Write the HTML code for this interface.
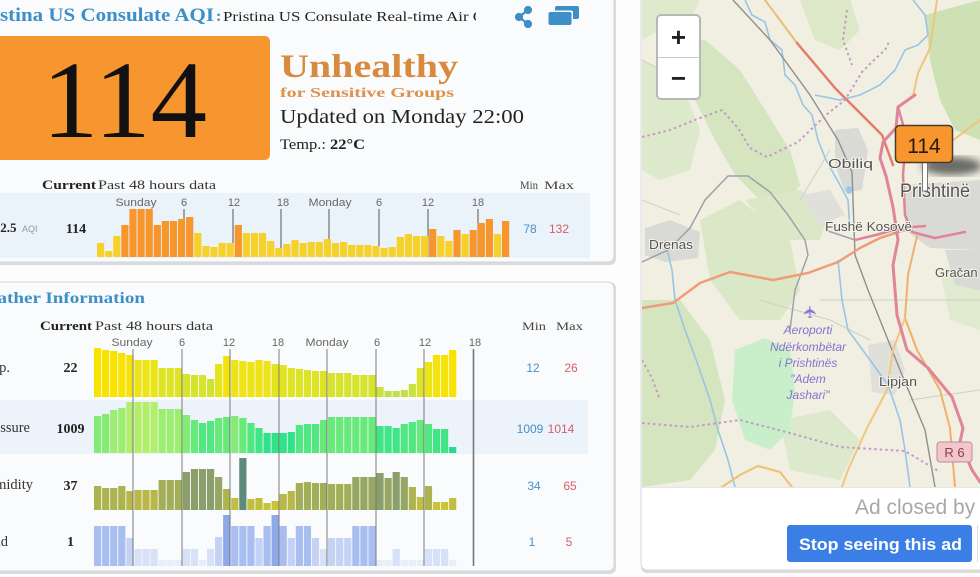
<!DOCTYPE html>
<html><head><meta charset="utf-8"><style>
html,body{margin:0;padding:0;background:#fff;}
svg{display:block;}
</style></head><body>
<svg width="980" height="577" viewBox="0 0 980 577" xmlns="http://www.w3.org/2000/svg">
<defs>
<clipPath id="mapclip"><rect x="642" y="0" width="338" height="487"/></clipPath>
<clipPath id="subclip"><rect x="0" y="0" width="476" height="40"/></clipPath>
<filter id="blur4"><feGaussianBlur stdDeviation="4"/></filter>
</defs>
<rect x="0" y="0" width="980" height="577" fill="#fdfdfd"/>

<!-- AQI panel -->
<rect x="-10" y="-10" width="626" height="275" rx="6" fill="#d9dbdd"/>
<rect x="-10" y="-10" width="624" height="272" rx="6" fill="#fafbfc" stroke="#d3d6d9" stroke-width="1"/>
<text x="0" y="21" font-family="Liberation Serif, serif" font-size="19" font-weight="bold" fill="#3d8fc6" text-anchor="end">Pri</text>
<text x="0" y="21" font-family="Liberation Serif, serif" font-size="19" font-weight="bold" fill="#3d8fc6" textLength="214" lengthAdjust="spacingAndGlyphs">stina US Consulate AQI</text>
<text x="216" y="21" font-family="Liberation Serif, serif" font-size="16" font-weight="bold" fill="#3d8fc6">:</text>
<g clip-path="url(#subclip)"><text x="223" y="21" font-family="Liberation Serif, serif" font-size="14" fill="#222" textLength="262" lengthAdjust="spacingAndGlyphs">Pristina US Consulate Real-time Air Q</text></g>
<!-- icons -->
<g stroke="#3d8fc6" stroke-width="2.2" fill="#3d8fc6">
<line x1="528" y1="10" x2="519" y2="17"/><line x1="519" y1="17" x2="528" y2="24"/>
<circle cx="528" cy="10" r="3"/><circle cx="519" cy="17" r="3"/><circle cx="528" cy="24" r="3"/>
</g>
<rect x="555" y="6" width="24" height="13" rx="2" fill="#3d8fc6"/>
<rect x="547" y="10.5" width="26" height="15" rx="2" fill="#fafbfc"/>
<rect x="548.5" y="12" width="23" height="13" rx="2" fill="#3d8fc6"/>

<rect x="-10" y="36" width="280" height="124" rx="5" fill="#f7962e"/>
<text x="42" y="137" font-family="Liberation Serif, serif" font-size="110" fill="#111" textLength="165" lengthAdjust="spacingAndGlyphs">114</text>
<text x="280" y="77" font-family="Liberation Serif, serif" font-size="33" font-weight="bold" fill="#d88a3e" textLength="178" lengthAdjust="spacingAndGlyphs">Unhealthy</text>
<text x="280" y="97" font-family="Liberation Serif, serif" font-size="14" font-weight="bold" fill="#e0904a" textLength="174" lengthAdjust="spacingAndGlyphs">for Sensitive Groups</text>
<text x="280" y="123" font-family="Liberation Serif, serif" font-size="20" fill="#222" textLength="244" lengthAdjust="spacingAndGlyphs">Updated on Monday 22:00</text>
<text x="280" y="149" font-family="Liberation Serif, serif" font-size="15" fill="#222" textLength="85" lengthAdjust="spacingAndGlyphs">Temp.: <tspan font-weight="bold">22°C</tspan></text>

<text x="42" y="189" font-family="Liberation Serif, serif" font-size="13" font-weight="bold" fill="#222" textLength="54" lengthAdjust="spacingAndGlyphs">Current</text>
<text x="98" y="189" font-family="Liberation Serif, serif" font-size="13" fill="#333" textLength="118" lengthAdjust="spacingAndGlyphs">Past 48 hours data</text>
<text x="520" y="189" font-family="Liberation Serif, serif" font-size="12" fill="#444" textLength="18" lengthAdjust="spacingAndGlyphs">Min</text>
<text x="544" y="189" font-family="Liberation Serif, serif" font-size="12" fill="#444" textLength="30" lengthAdjust="spacingAndGlyphs">Max</text>

<rect x="0" y="193" width="590" height="65" fill="#eaf2fa"/>
<g font-family="Liberation Sans, sans-serif" font-size="11" fill="#666" text-anchor="middle">
<text x="136" y="206" textLength="41" lengthAdjust="spacingAndGlyphs">Sunday</text>
<text x="184" y="206">6</text><text x="234" y="206">12</text><text x="283" y="206">18</text>
<text x="330" y="206" textLength="43" lengthAdjust="spacingAndGlyphs">Monday</text>
<text x="379" y="206">6</text><text x="428" y="206">12</text><text x="478" y="206">18</text>
</g>
<g stroke="#555" stroke-width="1">
<line x1="135" y1="209" x2="135" y2="257"/><line x1="184" y1="209" x2="184" y2="257"/>
<line x1="233" y1="209" x2="233" y2="257"/><line x1="281" y1="209" x2="281" y2="257"/>
<line x1="329" y1="209" x2="329" y2="257"/><line x1="379" y1="209" x2="379" y2="257"/>
<line x1="428" y1="209" x2="428" y2="257"/><line x1="478" y1="209" x2="478" y2="257"/>
</g>
<text x="-20" y="232" font-family="Liberation Serif, serif" font-size="13" font-weight="bold" fill="#222">PM2.5</text>
<text x="22" y="232" font-family="Liberation Sans, sans-serif" font-size="9" fill="#999">AQI</text>
<text x="76" y="233" font-family="Liberation Serif, serif" font-size="14" font-weight="bold" fill="#222" text-anchor="middle">114</text>
<text x="530" y="233" font-family="Liberation Sans, sans-serif" font-size="12" fill="#4a8fc8" text-anchor="middle">78</text>
<text x="559" y="233" font-family="Liberation Sans, sans-serif" font-size="12" fill="#d2606a" text-anchor="middle">132</text>

<g transform="translate(0,257) scale(1,-1)">
<rect x="97" width="7.2" height="14" fill="#f6d12c"/>
<rect x="105.1" width="7.2" height="6" fill="#f6d12c"/>
<rect x="113.2" width="7.2" height="21" fill="#f6d12c"/>
<rect x="121.3" width="7.2" height="32" fill="#f6962c"/>
<rect x="129.4" width="7.2" height="48" fill="#f6962c"/>
<rect x="137.5" width="7.2" height="48" fill="#f6962c"/>
<rect x="145.6" width="7.2" height="48" fill="#f6962c"/>
<rect x="153.7" width="7.2" height="32" fill="#f6962c"/>
<rect x="161.8" width="7.2" height="36" fill="#f6962c"/>
<rect x="169.9" width="7.2" height="36" fill="#f6962c"/>
<rect x="178" width="7.2" height="38" fill="#f6962c"/>
<rect x="186.1" width="7.2" height="40" fill="#f6962c"/>
<rect x="194.2" width="7.2" height="24" fill="#f6d12c"/>
<rect x="202.3" width="7.2" height="11" fill="#f6d12c"/>
<rect x="210.4" width="7.2" height="10" fill="#f6d12c"/>
<rect x="218.5" width="7.2" height="14" fill="#f6d12c"/>
<rect x="226.6" width="7.2" height="14" fill="#f6d12c"/>
<rect x="234.7" width="7.2" height="32" fill="#f6962c"/>
<rect x="242.8" width="7.2" height="24" fill="#f6d12c"/>
<rect x="250.9" width="7.2" height="24" fill="#f6d12c"/>
<rect x="259" width="7.2" height="24" fill="#f6d12c"/>
<rect x="267.1" width="7.2" height="16" fill="#f6d12c"/>
<rect x="275.2" width="7.2" height="9" fill="#f6d12c"/>
<rect x="283.3" width="7.2" height="13" fill="#f6d12c"/>
<rect x="291.4" width="7.2" height="17" fill="#f6d12c"/>
<rect x="299.5" width="7.2" height="14" fill="#f6d12c"/>
<rect x="307.6" width="7.2" height="15" fill="#f6d12c"/>
<rect x="315.7" width="7.2" height="15" fill="#f6d12c"/>
<rect x="323.8" width="7.2" height="18" fill="#f6d12c"/>
<rect x="331.9" width="7.2" height="14" fill="#f6d12c"/>
<rect x="340" width="7.2" height="15" fill="#f6d12c"/>
<rect x="348.1" width="7.2" height="12" fill="#f6d12c"/>
<rect x="356.2" width="7.2" height="12" fill="#f6d12c"/>
<rect x="364.3" width="7.2" height="12" fill="#f6d12c"/>
<rect x="372.4" width="7.2" height="11" fill="#f6d12c"/>
<rect x="380.5" width="7.2" height="9" fill="#f6d12c"/>
<rect x="388.6" width="7.2" height="10" fill="#f6d12c"/>
<rect x="396.7" width="7.2" height="20" fill="#f6d12c"/>
<rect x="404.8" width="7.2" height="23" fill="#f6d12c"/>
<rect x="412.9" width="7.2" height="21" fill="#f6d12c"/>
<rect x="421" width="7.2" height="21" fill="#f6d12c"/>
<rect x="429.1" width="7.2" height="28" fill="#f6962c"/>
<rect x="437.2" width="7.2" height="21" fill="#f6d12c"/>
<rect x="445.3" width="7.2" height="16" fill="#f6d12c"/>
<rect x="453.4" width="7.2" height="27" fill="#f6962c"/>
<rect x="461.5" width="7.2" height="23" fill="#f6d12c"/>
<rect x="469.6" width="7.2" height="27" fill="#f6962c"/>
<rect x="477.7" width="7.2" height="34" fill="#f6962c"/>
<rect x="485.8" width="7.2" height="38" fill="#f6962c"/>
<rect x="493.9" width="7.2" height="23" fill="#f6d12c"/>
<rect x="502" width="7.2" height="36" fill="#f6962c"/>
</g>

<!-- Weather panel -->
<rect x="-10" y="282" width="626" height="292" rx="6" fill="#d9dbdd"/>
<rect x="-10" y="282" width="624" height="289" rx="6" fill="#fafbfc" stroke="#d3d6d9" stroke-width="1"/>
<text x="-29" y="303" font-family="Liberation Serif, serif" font-size="16" font-weight="bold" fill="#3d8fc6" textLength="174" lengthAdjust="spacingAndGlyphs">Weather Information</text>
<text x="40" y="330" font-family="Liberation Serif, serif" font-size="13" font-weight="bold" fill="#222" textLength="52" lengthAdjust="spacingAndGlyphs">Current</text>
<text x="95" y="330" font-family="Liberation Serif, serif" font-size="13" fill="#333" textLength="118" lengthAdjust="spacingAndGlyphs">Past 48 hours data</text>
<text x="522" y="330" font-family="Liberation Serif, serif" font-size="12" fill="#444" textLength="24" lengthAdjust="spacingAndGlyphs">Min</text>
<text x="556" y="330" font-family="Liberation Serif, serif" font-size="12" fill="#444" textLength="27" lengthAdjust="spacingAndGlyphs">Max</text>
<g font-family="Liberation Sans, sans-serif" font-size="11" fill="#666" text-anchor="middle">
<text x="132" y="346" textLength="41" lengthAdjust="spacingAndGlyphs">Sunday</text>
<text x="182" y="346">6</text><text x="229" y="346">12</text><text x="278" y="346">18</text>
<text x="327" y="346" textLength="43" lengthAdjust="spacingAndGlyphs">Monday</text>
<text x="377" y="346">6</text><text x="425" y="346">12</text><text x="475" y="346">18</text>
</g>
<rect x="0" y="400" width="588" height="54" fill="#ecf3fa"/>

<g font-family="Liberation Serif, serif" font-size="14.5" fill="#333" text-anchor="end">
<text x="10" y="372">Temp.</text>
<text x="30" y="432">Pressure</text>
<text x="33" y="489">Humidity</text>
<text x="8" y="546">Wind</text>
</g>
<g font-family="Liberation Serif, serif" font-size="14" font-weight="bold" fill="#222" text-anchor="middle">
<text x="70.5" y="372">22</text>
<text x="70.5" y="433">1009</text>
<text x="70.5" y="490">37</text>
<text x="70.5" y="546">1</text>
</g>
<g font-family="Liberation Sans, sans-serif" font-size="12" text-anchor="middle">
<text x="533" y="372" fill="#4a8fc8">12</text><text x="571" y="372" fill="#d2606a">26</text>
<text x="530" y="433" fill="#4a8fc8">1009</text><text x="561" y="433" fill="#d2606a">1014</text>
<text x="534" y="490" fill="#4a8fc8">34</text><text x="570" y="490" fill="#d2606a">65</text>
<text x="532" y="546" fill="#4a8fc8">1</text><text x="569" y="546" fill="#d2606a">5</text>
</g>

<!-- Temp bars -->
<g transform="translate(0,397) scale(1,-1)">
<rect x="94" width="7.2" height="49" fill="#f9e200"/>
<rect x="102.07" width="7.2" height="47" fill="#f9e200"/>
<rect x="110.14" width="7.2" height="46" fill="#f9e200"/>
<rect x="118.21" width="7.2" height="44" fill="#f9e200"/>
<rect x="126.28" width="7.2" height="42" fill="#f3e30a"/>
<rect x="134.35" width="7.2" height="37" fill="#ece414"/>
<rect x="142.42" width="7.2" height="37" fill="#ece414"/>
<rect x="150.49" width="7.2" height="37" fill="#ece414"/>
<rect x="158.56" width="7.2" height="29" fill="#dde425"/>
<rect x="166.63" width="7.2" height="29" fill="#dde425"/>
<rect x="174.7" width="7.2" height="29" fill="#dde425"/>
<rect x="182.77" width="7.2" height="23" fill="#d6e42d"/>
<rect x="190.84" width="7.2" height="22" fill="#d6e42d"/>
<rect x="198.91" width="7.2" height="22" fill="#d6e42d"/>
<rect x="206.98" width="7.2" height="18" fill="#cfe335"/>
<rect x="215.05" width="7.2" height="33" fill="#e4e41c"/>
<rect x="223.12" width="7.2" height="41" fill="#f3e30a"/>
<rect x="231.19" width="7.2" height="37" fill="#ece414"/>
<rect x="239.26" width="7.2" height="36" fill="#ece414"/>
<rect x="247.33" width="7.2" height="35" fill="#ece414"/>
<rect x="255.4" width="7.2" height="37" fill="#ece414"/>
<rect x="263.47" width="7.2" height="36" fill="#ece414"/>
<rect x="271.54" width="7.2" height="33" fill="#e4e41c"/>
<rect x="279.61" width="7.2" height="32" fill="#e4e41c"/>
<rect x="287.68" width="7.2" height="29" fill="#dde425"/>
<rect x="295.75" width="7.2" height="28" fill="#dde425"/>
<rect x="303.82" width="7.2" height="27" fill="#dde425"/>
<rect x="311.89" width="7.2" height="26" fill="#dde425"/>
<rect x="319.96" width="7.2" height="26" fill="#dde425"/>
<rect x="328.03" width="7.2" height="24" fill="#d6e42d"/>
<rect x="336.1" width="7.2" height="24" fill="#d6e42d"/>
<rect x="344.17" width="7.2" height="24" fill="#d6e42d"/>
<rect x="352.24" width="7.2" height="22" fill="#d6e42d"/>
<rect x="360.31" width="7.2" height="22" fill="#d6e42d"/>
<rect x="368.38" width="7.2" height="22" fill="#d6e42d"/>
<rect x="376.45" width="7.2" height="10" fill="#c9e23f"/>
<rect x="384.52" width="7.2" height="6" fill="#c2df4b"/>
<rect x="392.59" width="7.2" height="6" fill="#c2df4b"/>
<rect x="400.66" width="7.2" height="7" fill="#c2df4b"/>
<rect x="408.73" width="7.2" height="13" fill="#c9e23f"/>
<rect x="416.8" width="7.2" height="29" fill="#dde425"/>
<rect x="424.87" width="7.2" height="35" fill="#ece414"/>
<rect x="432.94" width="7.2" height="42" fill="#f3e30a"/>
<rect x="441.01" width="7.2" height="42" fill="#f3e30a"/>
<rect x="449.08" width="7.2" height="47" fill="#f9e200"/>
</g>

<!-- Pressure bars -->
<g transform="translate(0,453) scale(1,-1)">
<rect x="94" width="7.2" height="37" fill="#82ec75"/>
<rect x="102.07" width="7.2" height="39" fill="#82ec75"/>
<rect x="110.14" width="7.2" height="43" fill="#9cee70"/>
<rect x="118.21" width="7.2" height="45" fill="#9cee70"/>
<rect x="126.28" width="7.2" height="51" fill="#b4ef6c"/>
<rect x="134.35" width="7.2" height="51" fill="#b4ef6c"/>
<rect x="142.42" width="7.2" height="51" fill="#b4ef6c"/>
<rect x="150.49" width="7.2" height="51" fill="#b4ef6c"/>
<rect x="158.56" width="7.2" height="44" fill="#9cee70"/>
<rect x="166.63" width="7.2" height="44" fill="#9cee70"/>
<rect x="174.7" width="7.2" height="44" fill="#9cee70"/>
<rect x="182.77" width="7.2" height="38" fill="#82ec75"/>
<rect x="190.84" width="7.2" height="33" fill="#68ea7b"/>
<rect x="198.91" width="7.2" height="30" fill="#52e881"/>
<rect x="206.98" width="7.2" height="32" fill="#52e881"/>
<rect x="215.05" width="7.2" height="35" fill="#68ea7b"/>
<rect x="223.12" width="7.2" height="36" fill="#68ea7b"/>
<rect x="231.19" width="7.2" height="37" fill="#82ec75"/>
<rect x="239.26" width="7.2" height="35" fill="#68ea7b"/>
<rect x="247.33" width="7.2" height="30" fill="#52e881"/>
<rect x="255.4" width="7.2" height="25" fill="#40e685"/>
<rect x="263.47" width="7.2" height="20" fill="#32e289"/>
<rect x="271.54" width="7.2" height="20" fill="#32e289"/>
<rect x="279.61" width="7.2" height="20" fill="#32e289"/>
<rect x="287.68" width="7.2" height="21" fill="#32e289"/>
<rect x="295.75" width="7.2" height="28" fill="#52e881"/>
<rect x="303.82" width="7.2" height="29" fill="#52e881"/>
<rect x="311.89" width="7.2" height="29" fill="#52e881"/>
<rect x="319.96" width="7.2" height="33" fill="#68ea7b"/>
<rect x="328.03" width="7.2" height="36" fill="#68ea7b"/>
<rect x="336.1" width="7.2" height="36" fill="#68ea7b"/>
<rect x="344.17" width="7.2" height="36" fill="#68ea7b"/>
<rect x="352.24" width="7.2" height="36" fill="#68ea7b"/>
<rect x="360.31" width="7.2" height="36" fill="#68ea7b"/>
<rect x="368.38" width="7.2" height="36" fill="#68ea7b"/>
<rect x="376.45" width="7.2" height="27" fill="#40e685"/>
<rect x="384.52" width="7.2" height="27" fill="#40e685"/>
<rect x="392.59" width="7.2" height="25" fill="#40e685"/>
<rect x="400.66" width="7.2" height="29" fill="#52e881"/>
<rect x="408.73" width="7.2" height="31" fill="#52e881"/>
<rect x="416.8" width="7.2" height="33" fill="#68ea7b"/>
<rect x="424.87" width="7.2" height="29" fill="#52e881"/>
<rect x="432.94" width="7.2" height="24" fill="#40e685"/>
<rect x="441.01" width="7.2" height="24" fill="#40e685"/>
<rect x="449.08" width="7.2" height="6" fill="#26dc8c"/>
</g>

<!-- Humidity bars -->
<g transform="translate(0,510) scale(1,-1)">
<rect x="94" width="7.2" height="24" fill="#adb34f"/>
<rect x="102.07" width="7.2" height="22" fill="#adb34f"/>
<rect x="110.14" width="7.2" height="22" fill="#adb34f"/>
<rect x="118.21" width="7.2" height="24" fill="#adb34f"/>
<rect x="126.28" width="7.2" height="19" fill="#b7b847"/>
<rect x="134.35" width="7.2" height="20" fill="#b7b847"/>
<rect x="142.42" width="7.2" height="20" fill="#b7b847"/>
<rect x="150.49" width="7.2" height="20" fill="#b7b847"/>
<rect x="158.56" width="7.2" height="30" fill="#a2ae58"/>
<rect x="166.63" width="7.2" height="30" fill="#a2ae58"/>
<rect x="174.7" width="7.2" height="30" fill="#a2ae58"/>
<rect x="182.77" width="7.2" height="38" fill="#8a9f6c"/>
<rect x="190.84" width="7.2" height="41" fill="#8a9f6c"/>
<rect x="198.91" width="7.2" height="41" fill="#8a9f6c"/>
<rect x="206.98" width="7.2" height="41" fill="#8a9f6c"/>
<rect x="215.05" width="7.2" height="33" fill="#95a763"/>
<rect x="223.12" width="7.2" height="21" fill="#adb34f"/>
<rect x="231.19" width="7.2" height="12" fill="#c1bf40"/>
<rect x="239.26" width="7.2" height="52" fill="#5e8a7c"/>
<rect x="247.33" width="7.2" height="11" fill="#c1bf40"/>
<rect x="255.4" width="7.2" height="12" fill="#c1bf40"/>
<rect x="263.47" width="7.2" height="7" fill="#c8c43a"/>
<rect x="271.54" width="7.2" height="9" fill="#c8c43a"/>
<rect x="279.61" width="7.2" height="16" fill="#b7b847"/>
<rect x="287.68" width="7.2" height="19" fill="#b7b847"/>
<rect x="295.75" width="7.2" height="27" fill="#a2ae58"/>
<rect x="303.82" width="7.2" height="28" fill="#a2ae58"/>
<rect x="311.89" width="7.2" height="27" fill="#a2ae58"/>
<rect x="319.96" width="7.2" height="27" fill="#a2ae58"/>
<rect x="328.03" width="7.2" height="26" fill="#a2ae58"/>
<rect x="336.1" width="7.2" height="26" fill="#a2ae58"/>
<rect x="344.17" width="7.2" height="26" fill="#a2ae58"/>
<rect x="352.24" width="7.2" height="33" fill="#95a763"/>
<rect x="360.31" width="7.2" height="33" fill="#95a763"/>
<rect x="368.38" width="7.2" height="33" fill="#95a763"/>
<rect x="376.45" width="7.2" height="37" fill="#8a9f6c"/>
<rect x="384.52" width="7.2" height="32" fill="#95a763"/>
<rect x="392.59" width="7.2" height="38" fill="#8a9f6c"/>
<rect x="400.66" width="7.2" height="33" fill="#95a763"/>
<rect x="408.73" width="7.2" height="23" fill="#adb34f"/>
<rect x="416.8" width="7.2" height="13" fill="#c1bf40"/>
<rect x="424.87" width="7.2" height="24" fill="#adb34f"/>
<rect x="432.94" width="7.2" height="8" fill="#c8c43a"/>
<rect x="441.01" width="7.2" height="8" fill="#c8c43a"/>
<rect x="449.08" width="7.2" height="12" fill="#c1bf40"/>
</g>

<!-- Wind bars -->
<g transform="translate(0,566) scale(1,-1)">
<rect x="94" width="7.2" height="40" fill="#a8bef0"/>
<rect x="102.07" width="7.2" height="40" fill="#a8bef0"/>
<rect x="110.14" width="7.2" height="40" fill="#a8bef0"/>
<rect x="118.21" width="7.2" height="40" fill="#a8bef0"/>
<rect x="126.28" width="7.2" height="28" fill="#c3d2f5"/>
<rect x="134.35" width="7.2" height="17" fill="#d7e1f7"/>
<rect x="142.42" width="7.2" height="17" fill="#d7e1f7"/>
<rect x="150.49" width="7.2" height="17" fill="#d7e1f7"/>
<rect x="158.56" width="7.2" height="6" fill="#e7edf9"/>
<rect x="166.63" width="7.2" height="6" fill="#e7edf9"/>
<rect x="174.7" width="7.2" height="6" fill="#e7edf9"/>
<rect x="182.77" width="7.2" height="17" fill="#d7e1f7"/>
<rect x="190.84" width="7.2" height="17" fill="#d7e1f7"/>
<rect x="198.91" width="7.2" height="6" fill="#e7edf9"/>
<rect x="206.98" width="7.2" height="17" fill="#d7e1f7"/>
<rect x="215.05" width="7.2" height="29" fill="#c3d2f5"/>
<rect x="223.12" width="7.2" height="51" fill="#8ea9e8"/>
<rect x="231.19" width="7.2" height="40" fill="#a8bef0"/>
<rect x="239.26" width="7.2" height="40" fill="#a8bef0"/>
<rect x="247.33" width="7.2" height="40" fill="#a8bef0"/>
<rect x="255.4" width="7.2" height="28" fill="#c3d2f5"/>
<rect x="263.47" width="7.2" height="40" fill="#a8bef0"/>
<rect x="271.54" width="7.2" height="51" fill="#8ea9e8"/>
<rect x="279.61" width="7.2" height="40" fill="#a8bef0"/>
<rect x="287.68" width="7.2" height="28" fill="#c3d2f5"/>
<rect x="295.75" width="7.2" height="40" fill="#a8bef0"/>
<rect x="303.82" width="7.2" height="40" fill="#a8bef0"/>
<rect x="311.89" width="7.2" height="28" fill="#c3d2f5"/>
<rect x="319.96" width="7.2" height="17" fill="#d7e1f7"/>
<rect x="328.03" width="7.2" height="28" fill="#c3d2f5"/>
<rect x="336.1" width="7.2" height="28" fill="#c3d2f5"/>
<rect x="344.17" width="7.2" height="28" fill="#c3d2f5"/>
<rect x="352.24" width="7.2" height="40" fill="#a8bef0"/>
<rect x="360.31" width="7.2" height="40" fill="#a8bef0"/>
<rect x="368.38" width="7.2" height="40" fill="#a8bef0"/>
<rect x="376.45" width="7.2" height="6" fill="#e7edf9"/>
<rect x="384.52" width="7.2" height="6" fill="#e7edf9"/>
<rect x="392.59" width="7.2" height="17" fill="#d7e1f7"/>
<rect x="400.66" width="7.2" height="6" fill="#e7edf9"/>
<rect x="408.73" width="7.2" height="6" fill="#e7edf9"/>
<rect x="416.8" width="7.2" height="6" fill="#e7edf9"/>
<rect x="424.87" width="7.2" height="17" fill="#d7e1f7"/>
<rect x="432.94" width="7.2" height="17" fill="#d7e1f7"/>
<rect x="441.01" width="7.2" height="17" fill="#d7e1f7"/>
<rect x="449.08" width="7.2" height="6" fill="#e7edf9"/>
</g>

<g stroke="#666" stroke-width="1" opacity="0.85">
<line x1="133" y1="349" x2="133" y2="566"/><line x1="182" y1="349" x2="182" y2="566"/>
<line x1="230" y1="349" x2="230" y2="566"/><line x1="279" y1="349" x2="279" y2="566"/>
<line x1="327" y1="349" x2="327" y2="566"/><line x1="376" y1="349" x2="376" y2="566"/>
<line x1="424" y1="349" x2="424" y2="566"/>
</g>
<line x1="473.5" y1="349" x2="473.5" y2="566" stroke="#777" stroke-width="1.6"/>

<!-- Map panel -->
<rect x="641" y="-10" width="350" height="583" rx="6" fill="#d9dbdd"/>
<rect x="641" y="-10" width="350" height="580" rx="6" fill="#ffffff" stroke="#d3d6d9" stroke-width="1"/>
<g clip-path="url(#mapclip)">
<rect x="642" y="0" width="338" height="487" fill="#f0efe2"/>
<g fill="#d5e5c0">
<path d="M680,45 L705,40 L740,70 L765,110 L790,150 L800,185 L785,205 L760,200 L735,175 L715,140 L695,100 Z"/>
<path d="M642,0 L700,0 L690,20 L660,30 L642,40 Z" fill="#dfe9cc"/>
<path d="M800,0 L850,0 L860,30 L840,50 L815,40 Z" fill="#dce8c8"/>
<path d="M925,15 L980,0 L980,140 L955,130 L940,100 L930,60 Z" fill="#cde1b4"/>
<path d="M642,300 L680,300 L710,340 L725,400 L715,450 L690,480 L642,487 Z"/>
<path d="M700,220 L740,200 L790,240 L800,290 L780,320 L740,320 L710,280 Z" fill="#dbe8c8"/>
<path d="M745,200 L800,190 L830,210 L820,240 L780,240 Z" fill="#dbe8c8"/>
<path d="M940,270 L980,260 L980,330 L950,320 Z" fill="#e0eacf"/>
<path d="M780,420 L830,410 L860,440 L840,480 L790,470 Z" fill="#dde9cc"/>
<path d="M642,60 L680,80 L700,130 L690,170 L660,180 L642,170 Z" fill="#dde9cb"/>
</g>
<path d="M735,350 L765,338 L790,350 L795,390 L790,430 L770,450 L745,440 L732,400 Z" fill="#c9efca"/>
<g fill="#d9d9d5">
<path d="M835,130 L858,128 L868,150 L862,190 L845,192 L835,165 Z"/>
<path d="M645,228 L670,220 L700,232 L698,258 L665,262 L645,255 Z"/>
<path d="M905,185 L980,180 L980,250 L930,248 L905,230 Z"/>
<path d="M868,345 L895,340 L905,370 L895,395 L872,392 Z" fill="#e0e0da"/>
<path d="M800,195 L830,190 L845,215 L820,225 Z" fill="#e0e0da"/>
<path d="M945,250 L980,250 L980,290 L955,285 Z"/>
</g>
<g stroke="#cfcfc6" stroke-width="1" fill="none">
<path d="M642,60 L700,90"/><path d="M820,300 L880,300 L980,300"/><path d="M910,400 L980,390"/>
<path d="M800,200 L830,150"/><path d="M760,300 L830,320 L870,340"/><path d="M642,200 L680,215"/>
</g>
<g stroke="#98c5e6" stroke-width="1.6" fill="none">
<path d="M745,0 L752,15 L765,22 L770,40 L782,50 L785,75 L795,85 L803,105 L812,115 L818,140 L826,160 L840,185 L848,200 L850,230"/>
<path d="M913,0 L925,15 L928,35 L918,45 L905,50 L895,70 L880,85 L860,95 L840,100 L815,95"/>
<path d="M665,240 L672,270 L675,300 L685,330 L698,365 L710,400 L718,430 L728,460 L735,487"/>
<path d="M838,260 L842,300 L848,330 L870,360 L888,385 L900,420 L905,450 L910,487"/>
</g>
<ellipse cx="849" cy="190" rx="3" ry="4" fill="#9cc8e8"/>
<path d="M733,0 L770,40 L810,95 L838,140 L852,172 L855,255 L868,290 L900,370 L925,430 L935,487" stroke="#8f8f8f" stroke-width="1.4" fill="none"/>
<g stroke="#9ea2a8" stroke-width="1.5" fill="none">
<path d="M642,262 L668,250 L690,228 L705,200 L728,176 L748,176 L770,192 L788,215 L805,240 L808,255 L795,290 L790,330"/>
<path d="M825,230 L855,240 L900,228"/>
</g>
<g fill="none" stroke-linecap="round" stroke-linejoin="round">
<path d="M642,308 L673,303 L700,283 L730,272 L773,280 L808,273 L838,262 L860,248 L880,238 L905,230" stroke="#ef9c78" stroke-width="2.5"/>
<path d="M765,0 L797,43" stroke="#eebc74" stroke-width="2"/>
<path d="M797,43 L835,88 L862,115 L882,135 L893,165" stroke="#e47c6c" stroke-width="2.5"/>
<path d="M917,236 L908,275 L905,318 L917,350 L940,390 L950,428 L955,487" stroke="#f0b06c" stroke-width="2"/>
<path d="M905,318 L893,350 L887,390 L867,428 L848,470 L842,487" stroke="#f2c67c" stroke-width="2"/>
<path d="M722,487 L740,475 L758,466 L780,472 L792,487" stroke="#f0c070" stroke-width="2"/>
<path d="M937,0 L930,48 L918,73 L913,96" stroke="#f0c47a" stroke-width="2"/>
<path d="M980,120 L960,135 L940,150 L928,160" stroke="#f0c47a" stroke-width="2"/>
<path d="M915,95 L898,107 L896,128 L883,142 L880,158 L886,176 L893,207 L898,240 L893,265 L897,315 L907,350 L928,368 L952,397 L963,428 L960,442 L972,470 L980,482" stroke="#e0849a" stroke-width="3"/>
<path d="M898,107 L906,135 L903,175 L905,215 L912,232 L935,238 L965,232" stroke="#e0849a" stroke-width="2.5"/>
<path d="M855,240 L880,234 L900,228 L925,226" stroke="#e0849a" stroke-width="2.5"/>
</g>
<circle cx="895" cy="229" r="4" fill="#e0849a"/>
<g stroke="#c49ac4" stroke-width="2" fill="none" stroke-dasharray="2.5 3">
<path d="M642,137 L670,130 L700,118 L722,110 L738,128 L750,148 L767,157 L798,142 L826,115 L845,100 L862,72 L872,62 L885,50 L890,40"/>
<path d="M847,10 L843,40 L852,65"/>
<path d="M642,423 L690,427 L740,420 L790,433 L840,447 L905,451 L940,472"/>
<path d="M642,360 L652,378 L660,400"/>
</g>
<g font-family="Liberation Sans, sans-serif" fill="#555" stroke="#f4f3ea" stroke-width="2" paint-order="stroke">
<text x="828" y="168" font-size="13" textLength="45" lengthAdjust="spacingAndGlyphs">Obiliq</text>
<text x="825" y="231" font-size="13" textLength="87" lengthAdjust="spacingAndGlyphs">Fushë Kosovë</text>
<text x="649" y="249" font-size="13" textLength="44" lengthAdjust="spacingAndGlyphs">Drenas</text>
<text x="935" y="277" font-size="13">Gračan</text>
<text x="879" y="386" font-size="13" textLength="38" lengthAdjust="spacingAndGlyphs">Lipjan</text>
<text x="900" y="197" font-size="19" fill="#555" textLength="70" lengthAdjust="spacingAndGlyphs">Prishtinë</text>
</g>
<text x="810" y="318" font-family="DejaVu Sans, sans-serif" font-size="17" fill="#8a6ed6" text-anchor="middle" transform="rotate(-90 810 312)">✈</text>
<g font-family="Liberation Sans, sans-serif" font-size="12" font-style="italic" fill="#8a70d0" text-anchor="middle">
<text x="808" y="334">Aeroporti</text>
<text x="808" y="351">Ndërkombëtar</text>
<text x="808" y="367">i Prishtinës</text>
<text x="808" y="383">"Adem</text>
<text x="808" y="399">Jashari"</text>
</g>
<rect x="937" y="442" width="35" height="20" rx="3" fill="#f2c6cc" stroke="#b89098" stroke-width="1"/>
<text x="954.5" y="457" font-family="Liberation Sans, sans-serif" font-size="13" fill="#8a4050" text-anchor="middle">R 6</text>
<!-- marker -->
<ellipse cx="952" cy="166" rx="30" ry="9" fill="#333" opacity="0.7" filter="url(#blur4)"/>
<rect x="922.5" y="162" width="5" height="29" fill="#fff" stroke="#777" stroke-width="1"/>
<rect x="895.5" y="125.5" width="57" height="37" rx="4" fill="#f7962e" stroke="#4a3a2a" stroke-width="1.5"/>
<text x="924" y="153" font-family="Liberation Sans, sans-serif" font-size="21" fill="#2a1a08" text-anchor="middle">114</text>
<!-- zoom control -->
<rect x="657" y="15" width="43" height="84" rx="4" fill="#fff" stroke="#b8b8b8" stroke-width="2"/>
<line x1="658" y1="57.5" x2="699" y2="57.5" stroke="#ccc" stroke-width="1"/>
<text x="678.5" y="46" font-family="Liberation Sans, sans-serif" font-size="26" font-weight="bold" fill="#222" text-anchor="middle">+</text>
<text x="678.5" y="87" font-family="Liberation Sans, sans-serif" font-size="26" font-weight="bold" fill="#222" text-anchor="middle">−</text>
</g>
<line x1="642" y1="487.5" x2="980" y2="487.5" stroke="#e6e6e6" stroke-width="1"/>
<text x="855" y="514" font-family="Liberation Sans, sans-serif" font-size="21" fill="#a8a8a8">Ad closed by</text>
<rect x="787" y="525" width="185" height="37" rx="3" fill="#3b7fe6"/>
<text x="799" y="550" font-family="Liberation Sans, sans-serif" font-size="17" font-weight="bold" fill="#ffffff" textLength="163" lengthAdjust="spacingAndGlyphs">Stop seeing this ad</text>
<line x1="977.5" y1="525" x2="977.5" y2="562" stroke="#ddd" stroke-width="1"/>
</svg>
</body></html>
